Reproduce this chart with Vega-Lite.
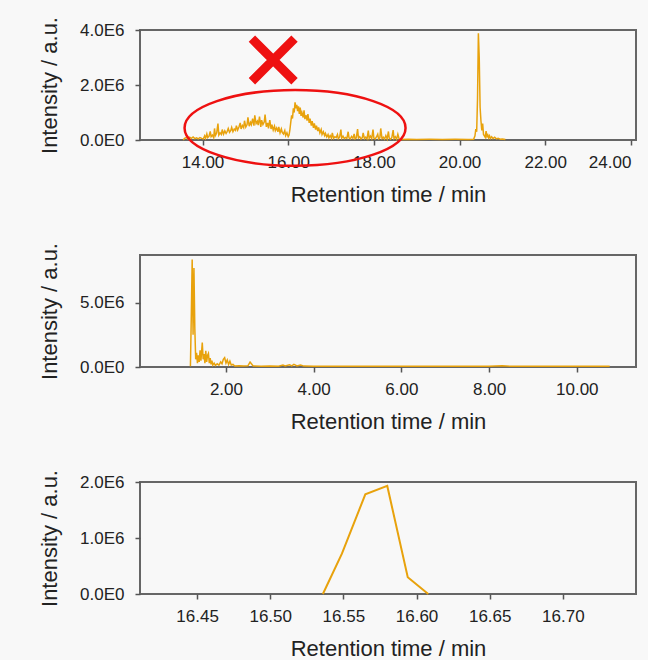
{
  "$schema": "https://vega.github.io/schema/vega-lite/v6.json",
  "background": "#f8f8f8",
  "padding": {"left": 37, "top": 15, "right": 13, "bottom": 0},
  "bounds": "flush",
  "spacing": 115,
  "datasets": {
    "top": [
      {"t":13.55,"v":0},{"t":13.58,"v":60000},{"t":13.62,"v":90000},{"t":13.66,"v":40000},{"t":13.70,"v":100000},{"t":13.74,"v":60000},{"t":13.78,"v":110000},{"t":13.82,"v":50000},{"t":13.86,"v":80000},{"t":13.90,"v":40000},{"t":13.94,"v":90000},{"t":13.98,"v":60000},
      {"t":14.02,"v":40000},{"t":14.05,"v":150000},{"t":14.07,"v":60000},{"t":14.10,"v":220000},{"t":14.12,"v":90000},{"t":14.15,"v":130000},{"t":14.18,"v":310000},{"t":14.20,"v":120000},{"t":14.23,"v":180000},{"t":14.26,"v":90000},{"t":14.28,"v":420000},{"t":14.30,"v":160000},{"t":14.33,"v":250000},{"t":14.36,"v":600000},{"t":14.38,"v":180000},{"t":14.41,"v":260000},{"t":14.44,"v":200000},{"t":14.46,"v":380000},{"t":14.49,"v":210000},{"t":14.52,"v":330000},{"t":14.55,"v":240000},{"t":14.57,"v":290000},{"t":14.60,"v":420000},{"t":14.63,"v":280000},{"t":14.66,"v":350000},{"t":14.68,"v":460000},{"t":14.71,"v":300000},{"t":14.74,"v":400000},{"t":14.77,"v":350000},{"t":14.79,"v":520000},{"t":14.82,"v":360000},{"t":14.85,"v":470000},{"t":14.88,"v":620000},{"t":14.90,"v":400000},{"t":14.93,"v":530000},{"t":14.96,"v":450000},{"t":14.98,"v":700000},{"t":15.01,"v":470000},{"t":15.04,"v":560000},{"t":15.06,"v":820000},{"t":15.09,"v":500000},{"t":15.12,"v":640000},{"t":15.14,"v":560000},{"t":15.17,"v":780000},{"t":15.20,"v":520000},{"t":15.22,"v":900000},{"t":15.25,"v":600000},{"t":15.28,"v":680000},{"t":15.30,"v":540000},{"t":15.33,"v":850000},{"t":15.36,"v":480000},{"t":15.38,"v":720000},{"t":15.41,"v":560000},{"t":15.44,"v":650000},{"t":15.46,"v":920000},{"t":15.49,"v":480000},{"t":15.52,"v":620000},{"t":15.54,"v":420000},{"t":15.57,"v":720000},{"t":15.60,"v":400000},{"t":15.62,"v":560000},{"t":15.65,"v":360000},{"t":15.68,"v":500000},{"t":15.70,"v":340000},{"t":15.73,"v":440000},{"t":15.76,"v":300000},{"t":15.78,"v":480000},{"t":15.81,"v":260000},{"t":15.84,"v":400000},{"t":15.86,"v":280000},{"t":15.89,"v":220000},{"t":15.92,"v":340000},{"t":15.94,"v":160000},{"t":15.97,"v":260000},{"t":16.00,"v":120000},{"t":16.02,"v":180000},{"t":16.04,"v":380000},{"t":16.06,"v":650000},{"t":16.08,"v":900000},{"t":16.10,"v":780000},{"t":16.12,"v":1150000},{"t":16.14,"v":1000000},{"t":16.16,"v":1370000},{"t":16.18,"v":1150000},{"t":16.20,"v":1280000},{"t":16.22,"v":1050000},{"t":16.24,"v":1220000},{"t":16.26,"v":950000},{"t":16.28,"v":1180000},{"t":16.30,"v":880000},{"t":16.32,"v":1000000},{"t":16.35,"v":820000},{"t":16.37,"v":1080000},{"t":16.39,"v":760000},{"t":16.42,"v":900000},{"t":16.44,"v":700000},{"t":16.46,"v":940000},{"t":16.49,"v":620000},{"t":16.51,"v":780000},{"t":16.54,"v":520000},{"t":16.56,"v":690000},{"t":16.59,"v":440000},{"t":16.61,"v":600000},{"t":16.64,"v":380000},{"t":16.66,"v":520000},{"t":16.69,"v":320000},{"t":16.71,"v":460000},{"t":16.74,"v":260000},{"t":16.77,"v":380000},{"t":16.79,"v":200000},{"t":16.82,"v":300000},{"t":16.85,"v":160000},{"t":16.87,"v":240000},{"t":16.90,"v":110000},{"t":16.93,"v":200000},{"t":16.95,"v":80000},{"t":16.98,"v":160000},{"t":17.01,"v":70000},{"t":17.03,"v":260000},{"t":17.06,"v":60000},{"t":17.09,"v":120000},{"t":17.12,"v":90000},{"t":17.15,"v":200000},{"t":17.17,"v":50000},{"t":17.20,"v":100000},{"t":17.23,"v":380000},{"t":17.25,"v":70000},{"t":17.28,"v":140000},{"t":17.31,"v":50000},{"t":17.34,"v":90000},{"t":17.37,"v":60000},{"t":17.40,"v":300000},{"t":17.42,"v":80000},{"t":17.45,"v":40000},{"t":17.48,"v":130000},{"t":17.51,"v":60000},{"t":17.54,"v":220000},{"t":17.56,"v":40000},{"t":17.59,"v":80000},{"t":17.62,"v":400000},{"t":17.64,"v":70000},{"t":17.67,"v":120000},{"t":17.70,"v":40000},{"t":17.73,"v":90000},{"t":17.75,"v":260000},{"t":17.78,"v":50000},{"t":17.81,"v":100000},{"t":17.84,"v":40000},{"t":17.87,"v":340000},{"t":17.89,"v":60000},{"t":17.92,"v":140000},{"t":17.95,"v":50000},{"t":17.98,"v":380000},{"t":18.00,"v":70000},{"t":18.03,"v":40000},{"t":18.06,"v":110000},{"t":18.09,"v":210000},{"t":18.11,"v":40000},{"t":18.14,"v":80000},{"t":18.16,"v":420000},{"t":18.19,"v":50000},{"t":18.22,"v":100000},{"t":18.25,"v":30000},{"t":18.28,"v":160000},{"t":18.31,"v":40000},{"t":18.34,"v":310000},{"t":18.36,"v":60000},{"t":18.39,"v":30000},{"t":18.42,"v":90000},{"t":18.45,"v":360000},{"t":18.47,"v":50000},{"t":18.50,"v":120000},{"t":18.53,"v":30000},{"t":18.56,"v":210000},{"t":18.59,"v":40000},{"t":18.62,"v":20000},
      {"t":18.8,"v":25000},{"t":19.0,"v":20000},{"t":19.3,"v":25000},{"t":19.6,"v":20000},{"t":19.9,"v":25000},{"t":20.2,"v":20000},{"t":20.33,"v":30000},{"t":20.36,"v":150000},{"t":20.38,"v":400000},{"t":20.40,"v":300000},{"t":20.42,"v":1500000},{"t":20.44,"v":3880000},{"t":20.46,"v":3000000},{"t":20.48,"v":1200000},{"t":20.50,"v":700000},{"t":20.52,"v":350000},{"t":20.54,"v":600000},{"t":20.56,"v":200000},{"t":20.58,"v":150000},{"t":20.60,"v":100000},{"t":20.62,"v":320000},{"t":20.64,"v":120000},{"t":20.66,"v":180000},{"t":20.68,"v":80000},{"t":20.70,"v":150000},{"t":20.72,"v":60000},{"t":20.75,"v":120000},{"t":20.78,"v":50000},{"t":20.82,"v":100000},{"t":20.86,"v":40000},{"t":20.90,"v":60000},{"t":20.95,"v":30000},{"t":21.00,"v":40000},{"t":21.07,"v":20000}
    ],
    "mid": [
      {"t":1.19,"v":50000},{"t":1.21,"v":4000000},{"t":1.23,"v":8350000},{"t":1.25,"v":2500000},{"t":1.27,"v":7700000},{"t":1.29,"v":3000000},{"t":1.31,"v":600000},{"t":1.33,"v":1100000},{"t":1.35,"v":300000},{"t":1.37,"v":900000},{"t":1.39,"v":400000},{"t":1.41,"v":1300000},{"t":1.43,"v":500000},{"t":1.46,"v":1900000},{"t":1.48,"v":600000},{"t":1.50,"v":1000000},{"t":1.52,"v":300000},{"t":1.54,"v":1250000},{"t":1.56,"v":400000},{"t":1.58,"v":900000},{"t":1.60,"v":1050000},{"t":1.62,"v":300000},{"t":1.64,"v":700000},{"t":1.66,"v":200000},{"t":1.68,"v":500000},{"t":1.70,"v":150000},{"t":1.73,"v":300000},{"t":1.76,"v":120000},{"t":1.80,"v":250000},{"t":1.84,"v":150000},{"t":1.88,"v":400000},{"t":1.91,"v":250000},{"t":1.94,"v":600000},{"t":1.97,"v":730000},{"t":2.00,"v":300000},{"t":2.03,"v":550000},{"t":2.06,"v":200000},{"t":2.09,"v":450000},{"t":2.12,"v":150000},{"t":2.16,"v":200000},{"t":2.20,"v":80000},{"t":2.30,"v":100000},{"t":2.40,"v":70000},{"t":2.50,"v":90000},{"t":2.55,"v":380000},{"t":2.58,"v":250000},{"t":2.62,"v":80000},{"t":2.80,"v":60000},{"t":3.00,"v":70000},{"t":3.20,"v":60000},{"t":3.30,"v":150000},{"t":3.35,"v":80000},{"t":3.45,"v":180000},{"t":3.50,"v":90000},{"t":3.55,"v":200000},{"t":3.62,"v":80000},{"t":3.70,"v":160000},{"t":3.78,"v":70000},{"t":4.00,"v":60000},{"t":4.5,"v":50000},{"t":5.0,"v":60000},{"t":5.5,"v":50000},{"t":6.0,"v":55000},{"t":6.5,"v":50000},{"t":7.0,"v":55000},{"t":7.5,"v":50000},{"t":8.0,"v":55000},{"t":8.3,"v":90000},{"t":8.5,"v":50000},{"t":9.0,"v":55000},{"t":9.5,"v":50000},{"t":10.0,"v":55000},{"t":10.5,"v":50000},{"t":10.75,"v":50000}
    ],
    "bot": [
      {"t":16.536,"v":0},{"t":16.549,"v":720000},{"t":16.565,"v":1780000},{"t":16.580,"v":1930000},{"t":16.594,"v":300000},{"t":16.608,"v":0}
    ],
    "notes": [
      {"kind":"ellipse","t":16.16,"v":440000},
      {"kind":"cross","t":15.65,"v":2910000}
    ]
  },
  "config": {
    "font": "Liberation Sans",
    "view": {"stroke": "#666666", "strokeWidth": 2, "fill": "#f8f8f8"},
    "axis": {
      "domain": false,
      "grid": false,
      "labelFontSize": 17,
      "labelColor": "#222222",
      "titleFontSize": 22,
      "titleFontWeight": "normal",
      "titleColor": "#222222",
      "tickColor": "#555555",
      "tickSize": 5,
      "tickWidth": 1.5
    },
    "axisX": {"labelPadding": 9, "titlePadding": 14},
    "axisY": {"labelPadding": 11, "titlePadding": 18}
  },
  "vconcat": [
    {
      "width": 496,
      "height": 110,
      "encoding": {
        "x": {"field": "t", "type": "quantitative", "scale": {"domain": [12.54, 24.12], "nice": false, "zero": false}, "axis": {"values": [14, 16, 18, 20, 22, 24], "format": ".2f", "title": "Retention time / min", "labelFlush": 10}},
        "y": {"field": "v", "type": "quantitative", "scale": {"domain": [0, 4000000], "nice": false}, "axis": {"values": [0, 2000000, 4000000], "labelExpr": "replace(format(datum.value, '.1e'), 'e+', 'E')", "title": "Intensity / a.u."}}
      },
      "layer": [
        {"data": {"name": "top"}, "mark": {"type": "line", "color": "#e8a20c", "strokeWidth": 1.5}},
        {"data": {"name": "notes"}, "transform": [{"filter": "datum.kind === 'ellipse'"}],
         "mark": {"type": "point", "shape": "M -1 0 C -1 -0.1892 -0.5523 -0.3425 0 -0.3425 C 0.5523 -0.3425 1 -0.1892 1 0 C 1 0.1892 0.5523 0.3425 0 0.3425 C -0.5523 0.3425 -1 0.1892 -1 0 Z", "size": 48841, "filled": false, "stroke": "#ee1111", "strokeWidth": 2.5, "opacity": 1, "clip": false}},
        {"data": {"name": "notes"}, "transform": [{"filter": "datum.kind === 'cross'"}],
         "mark": {"type": "point", "shape": "M -1 -1 L 1 1 M -1 1 L 1 -1", "size": 1815, "filled": false, "stroke": "#ee1111", "strokeWidth": 9, "strokeCap": "butt", "opacity": 1, "clip": false}}
      ]
    },
    {
      "width": 496,
      "height": 112,
      "data": {"name": "mid"},
      "mark": {"type": "line", "color": "#e8a20c", "strokeWidth": 1.5},
      "encoding": {
        "x": {"field": "t", "type": "quantitative", "scale": {"domain": [0.04, 11.35], "nice": false, "zero": false}, "axis": {"values": [2, 4, 6, 8, 10], "format": ".2f", "title": "Retention time / min"}},
        "y": {"field": "v", "type": "quantitative", "scale": {"domain": [0, 8710000], "nice": false}, "axis": {"values": [0, 5000000], "labelExpr": "replace(format(datum.value, '.1e'), 'e+', 'E')", "title": "Intensity / a.u."}}
      }
    },
    {
      "width": 496,
      "height": 112,
      "data": {"name": "bot"},
      "mark": {"type": "line", "color": "#e8a20c", "strokeWidth": 2},
      "encoding": {
        "x": {"field": "t", "type": "quantitative", "scale": {"domain": [16.411, 16.75], "nice": false, "zero": false}, "axis": {"values": [16.45, 16.5, 16.55, 16.6, 16.65, 16.7], "format": ".2f", "title": "Retention time / min"}},
        "y": {"field": "v", "type": "quantitative", "scale": {"domain": [0, 2000000], "nice": false}, "axis": {"values": [0, 1000000, 2000000], "labelExpr": "replace(format(datum.value, '.1e'), 'e+', 'E')", "title": "Intensity / a.u."}}
      }
    }
  ]
}
